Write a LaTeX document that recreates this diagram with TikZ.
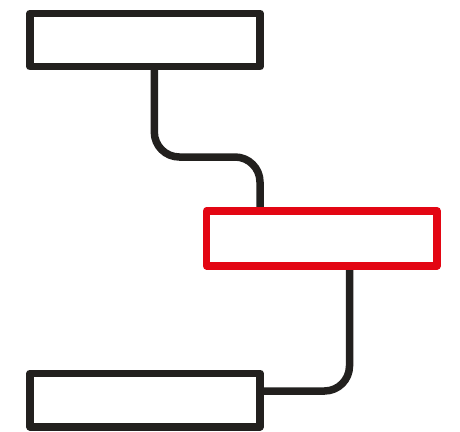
\documentclass[tikz,border=0pt]{standalone}
\usetikzlibrary{backgrounds}
\definecolor{ink}{RGB}{34,32,30}
\definecolor{redbox}{RGB}{227,6,19}
\begin{document}
\begin{tikzpicture}[x=1pt,y=-1pt,
  box/.style={draw=ink,line width=7.5pt,line join=round,rectangle,inner sep=0pt,outer sep=0pt,fill=white},
  hot/.style={box,draw=redbox},
  conn/.style={draw=ink,line width=7.5pt,rounded corners=25pt}]
\useasboundingbox (0,0) rectangle (460,431);
\node[box,minimum width=230pt,minimum height=53.4pt] (top) at (145,40) {};
\node[hot,minimum width=230.3pt,minimum height=55pt] (mid) at (321.85,238.3) {};
\node[box,minimum width=230pt,minimum height=53.5pt] (bot) at (145,400) {};
\begin{scope}[on background layer]
\draw[conn] ([xshift=9.3pt]top.south) -- ++(0,90.3) -| ([xshift=-61.85pt]mid.north);
\draw[conn] ([xshift=27.65pt]mid.south) |- ([yshift=9pt]bot.east);
\end{scope}
\end{tikzpicture}
\end{document}
